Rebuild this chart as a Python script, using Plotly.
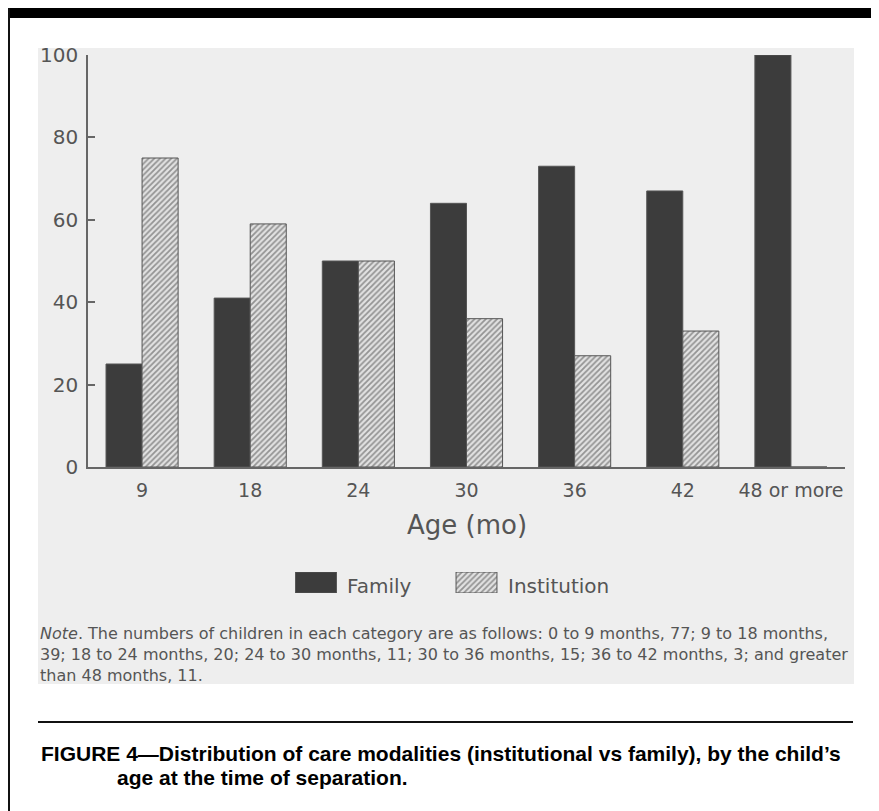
import plotly.graph_objects as go

# ---- data ----
categories = ["9", "18", "24", "30", "36", "42", "48 or more"]
family = [25, 41, 50, 64, 73, 67, 100]
institution = [75, 59, 50, 36, 27, 33, 0]
y_ticks = [0, 20, 40, 60, 80, 100]
series_names = ["Family", "Institution"]
legend_vals = [1, 1]

# page body has an 8px default margin; size the figure to fill the rest
OFF = 8
W, H = 879 - OFF, 811 - OFF
def fx(p): return (p - OFF) / W
def fy(p): return 1 - (p - OFF) / H

FONT = "DejaVu Sans"
AX = "#666666"
FAM_COLOR = "#3c3c3c"
INST_BG = "#e2e2e2"
INST_FG = "#444444"

fig = go.Figure()
fig.add_trace(go.Bar(
    x=categories, y=family, name=series_names[0],
    marker=dict(color=FAM_COLOR, line=dict(color="#555555", width=1)),
    showlegend=False, xaxis="x", yaxis="y"))
fig.add_trace(go.Bar(
    x=categories, y=institution, name=series_names[1],
    marker=dict(color=INST_BG, line=dict(color="#555555", width=1),
                pattern=dict(shape="/", fgcolor=INST_FG, bgcolor=INST_BG,
                             size=4, solidity=0.45)),
    showlegend=False, xaxis="x", yaxis="y"))

# legend swatches drawn on a small auxiliary axis
fig.add_trace(go.Bar(
    x=[series_names[0]], y=[legend_vals[0]], width=0.255,
    marker=dict(color=FAM_COLOR, line=dict(color="#555555", width=1)),
    showlegend=False, hoverinfo="skip", xaxis="x2", yaxis="y2"))
fig.add_trace(go.Bar(
    x=[series_names[1]], y=[legend_vals[1]], width=0.255,
    marker=dict(color=INST_BG, line=dict(color="#555555", width=1),
                pattern=dict(shape="/", fgcolor=INST_FG, bgcolor=INST_BG,
                             size=4, solidity=0.45)),
    showlegend=False, hoverinfo="skip", xaxis="x2", yaxis="y2"))

shapes = [
    # grey panel
    dict(type="rect", xref="paper", yref="paper", x0=fx(38), x1=fx(854),
         y0=fy(684), y1=fy(48), fillcolor="#eeeeee", line=dict(width=0), layer="below"),
    # top black band
    dict(type="rect", xref="paper", yref="paper", x0=fx(8), x1=1,
         y0=fy(18), y1=fy(8), fillcolor="#000000", line=dict(width=0), layer="above"),
    # left frame line
    dict(type="line", xref="paper", yref="paper", x0=fx(9), x1=fx(9),
         y0=fy(8), y1=0, line=dict(color="#111111", width=2)),
    # rule above caption
    dict(type="line", xref="paper", yref="paper", x0=fx(38), x1=fx(853),
         y0=fy(722), y1=fy(722), line=dict(color="#111111", width=2)),
]

annotations = [
    dict(text="Age (mo)", xref="paper", yref="paper", x=fx(466.5), y=fy(525),
         xanchor="center", yanchor="middle", showarrow=False,
         font=dict(family=FONT, size=26, color="#555555")),
    dict(text=series_names[0], xref="paper", yref="paper", x=fx(345), y=fy(586),
         xanchor="left", yanchor="middle", showarrow=False,
         font=dict(family=FONT, size=20, color="#555555")),
    dict(text=series_names[1], xref="paper", yref="paper", x=fx(506), y=fy(586),
         xanchor="left", yanchor="middle", showarrow=False,
         font=dict(family=FONT, size=20, color="#555555")),
    dict(text=("<i>Note</i>. The numbers of children in each category are as follows: 0 to 9 months, 77; 9 to 18 months,<br>"
               "39; 18 to 24 months, 20; 24 to 30 months, 11; 30 to 36 months, 15; 36 to 42 months, 3; and greater<br>"
               "than 48 months, 11."),
         xref="paper", yref="paper", x=fx(38), y=fy(622), xanchor="left", yanchor="top",
         align="left", showarrow=False,
         font=dict(family=FONT, size=16, color="#555555")),
    dict(text="<b>FIGURE 4\u2014Distribution of care modalities (institutional vs family), by the child\u2019s</b>",
         xref="paper", yref="paper", x=fx(39), y=fy(753), xanchor="left", yanchor="middle",
         showarrow=False, font=dict(family="Liberation Sans", size=21, color="#000000")),
    dict(text="<b>age at the time of separation.</b>",
         xref="paper", yref="paper", x=fx(115), y=fy(777), xanchor="left", yanchor="middle",
         showarrow=False, font=dict(family="Liberation Sans", size=21, color="#000000")),
]

fig.update_layout(
    width=W, height=H,
    margin=dict(l=0, r=0, t=0, b=0),
    paper_bgcolor="#ffffff", plot_bgcolor="rgba(0,0,0,0)",
    barmode="group", bargap=1/3, bargroupgap=0,
    showlegend=False,
    xaxis=dict(domain=[fx(88), fx(845)], type="category", categoryorder="array",
               categoryarray=categories, showline=True, linecolor=AX, linewidth=1.5,
               ticks="", showgrid=False, zeroline=False, automargin=False,
               tickfont=dict(family=FONT, size=19, color="#555555"), ticklabelstandoff=5,
               fixedrange=True),
    yaxis=dict(domain=[fy(467), fy(55)], range=[0, 100], tickvals=y_ticks,
               showline=True, linecolor=AX, linewidth=1.5, ticks="inside", ticklen=7,
               tickcolor=AX, tickwidth=1.5, showgrid=False, zeroline=False, automargin=False,
               tickfont=dict(family=FONT, size=20, color="#555555"), ticklabelstandoff=4,
               fixedrange=True),
    xaxis2=dict(domain=[fx(235.75), fx(556.75)], type="category", categoryarray=series_names,
                visible=False, anchor="y2", fixedrange=True),
    yaxis2=dict(domain=[fy(593), fy(572)], range=[0, 1], visible=False, anchor="x2",
                fixedrange=True),
    shapes=shapes, annotations=annotations,
)

fig.write_html("out.html")
